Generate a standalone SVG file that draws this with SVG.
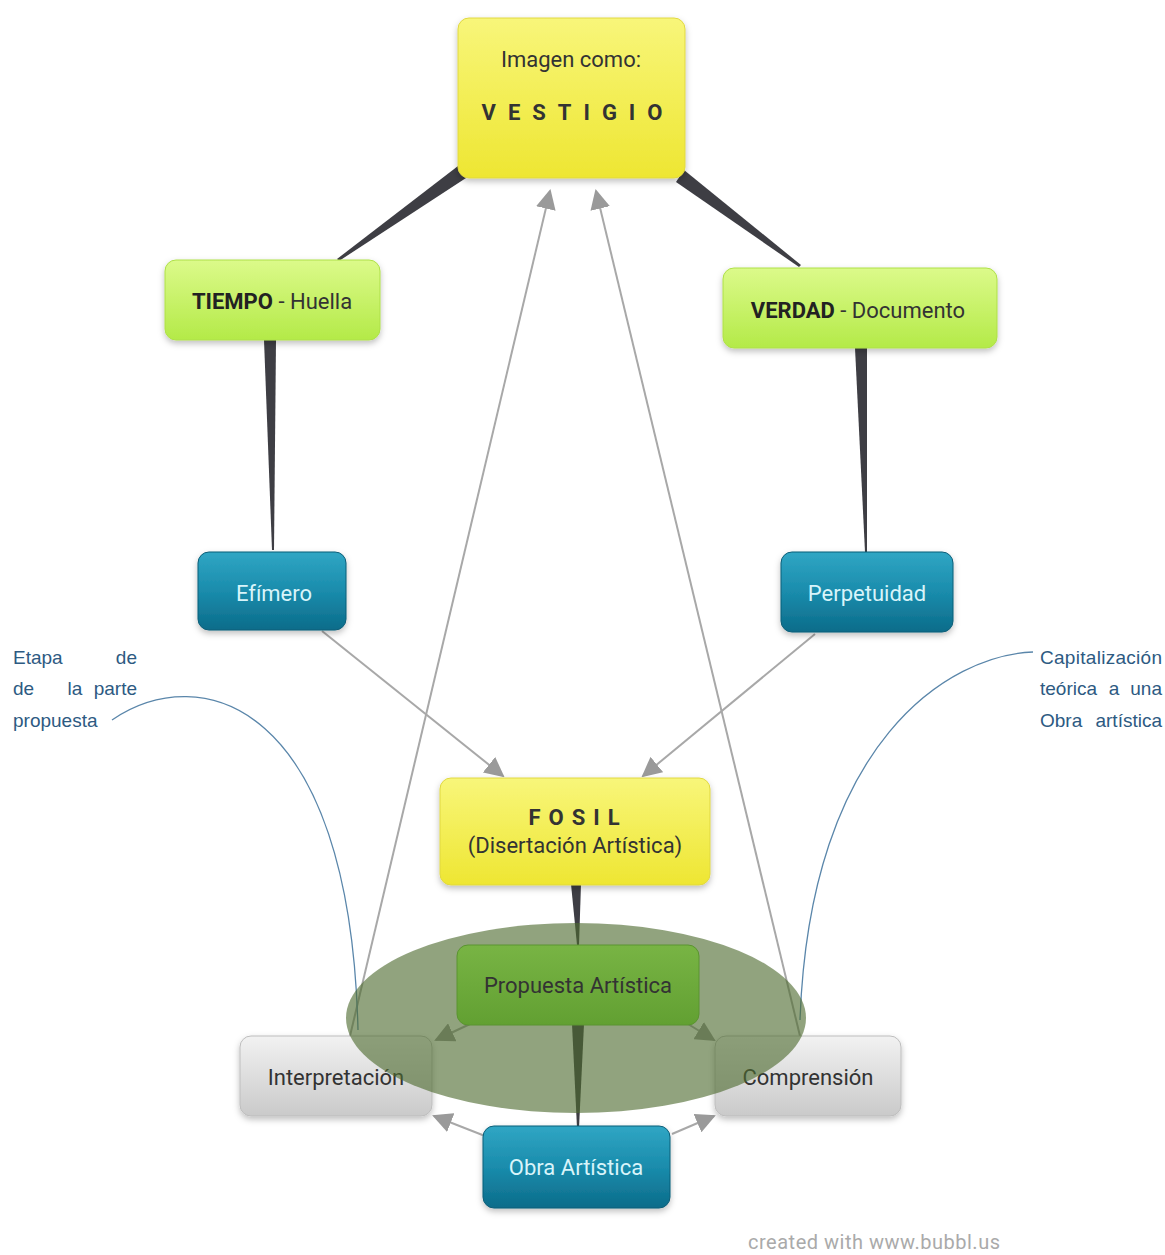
<svg xmlns="http://www.w3.org/2000/svg" width="1165" height="1255" viewBox="0 0 1165 1255">
<defs>
<linearGradient id="gY" x1="0" y1="0" x2="0" y2="1"><stop offset="0" stop-color="#f8f67a"/><stop offset="1" stop-color="#eee632"/></linearGradient>
<linearGradient id="gG" x1="0" y1="0" x2="0" y2="1"><stop offset="0" stop-color="#dcfa8a"/><stop offset="1" stop-color="#b4ea48"/></linearGradient>
<linearGradient id="gT" x1="0" y1="0" x2="0" y2="1"><stop offset="0" stop-color="#30a6c4"/><stop offset="0.5" stop-color="#1a8cac"/><stop offset="1" stop-color="#0c6c8a"/></linearGradient>
<linearGradient id="gR" x1="0" y1="0" x2="0" y2="1"><stop offset="0" stop-color="#f2f2f2"/><stop offset="1" stop-color="#cacaca"/></linearGradient>
<linearGradient id="gP" x1="0" y1="0" x2="0" y2="1"><stop offset="0" stop-color="#78b444"/><stop offset="1" stop-color="#62a032"/></linearGradient>
<filter id="sh" x="-10%" y="-10%" width="120%" height="130%"><feDropShadow dx="0" dy="3" stdDeviation="3" flood-color="#000" flood-opacity="0.25"/></filter>
<marker id="ahb" viewBox="0 0 10 10" refX="9" refY="5" markerWidth="20" markerHeight="20" markerUnits="userSpaceOnUse" orient="auto"><path d="M0,0 L10,5 L0,10 z" fill="#9a9a9a"/></marker>
<style>
.t{font-family:Roboto,"Liberation Sans",sans-serif;font-size:22px;fill:#333;text-anchor:middle}
.tw{font-family:Roboto,"Liberation Sans",sans-serif;font-size:22px;fill:#d8f4fa;text-anchor:middle}
.n{font-family:"Liberation Sans",Arial,sans-serif;font-size:19px;fill:#2d5a82}
.ln{fill:none;stroke:#a8a8a8;stroke-width:2}
.wd{fill:#3e3e44}
.bc{fill:none;stroke:#5a86aa;stroke-width:1.3}
</style>
</defs>
<rect width="1165" height="1255" fill="#fff"/>

<g id="connectors">
<polygon class="wd" points="466,178 458,166 337,259 339,261"/>
<polygon class="wd" points="676,182 684,170 801,265 799,267"/>
<polygon class="wd" points="264,340 276,340 274,550 272,550"/>
<polygon class="wd" points="855,348 867,348 867,552 865,552"/>
<polygon class="wd" points="571,884 581,884 579,945 577,945"/>
<polygon class="wd" points="572,1024 584,1024 579,1128 577,1128"/>
<line class="ln" x1="322" y1="631" x2="503" y2="776" marker-end="url(#ahb)"/>
<line class="ln" x1="815" y1="634" x2="643" y2="776" marker-end="url(#ahb)"/>
<line class="ln" x1="350" y1="1036" x2="550" y2="191" marker-end="url(#ahb)"/>
<line class="ln" x1="800" y1="1036" x2="596" y2="191" marker-end="url(#ahb)"/>
<line class="ln" x1="470" y1="1024" x2="436" y2="1040" marker-end="url(#ahb)"/>
<line class="ln" x1="688" y1="1024" x2="714" y2="1040" marker-end="url(#ahb)"/>
<line class="ln" x1="485" y1="1136" x2="434" y2="1116" marker-end="url(#ahb)"/>
<line class="ln" x1="672" y1="1134" x2="714" y2="1116" marker-end="url(#ahb)"/>
<path class="bc" d="M112,720 C200,660 350,700 358,1030"/>
<path class="bc" d="M1033,652 C950,655 810,740 800,1020"/>
</g>

<g id="vestigio">
<rect x="458" y="18" width="227" height="160" rx="11" fill="url(#gY)" stroke="#e0d840" filter="url(#sh)"/>
<text class="t" x="571" y="67" font-size="21">Imagen como:</text>
<text class="t" x="578" y="120" font-weight="bold" font-size="18" letter-spacing="12" fill="#2a2a1a">VESTIGIO</text>
</g>

<g id="tiempo">
<rect x="165" y="260" width="215" height="80" rx="11" fill="url(#gG)" stroke="#aee048" filter="url(#sh)"/>
<text class="t" x="272" y="309"><tspan font-weight="bold" fill="#222">TIEMPO</tspan> - Huella</text>
</g>

<g id="verdad">
<rect x="723" y="268" width="274" height="80" rx="11" fill="url(#gG)" stroke="#aee048" filter="url(#sh)"/>
<text class="t" x="858" y="318"><tspan font-weight="bold" fill="#222">VERDAD</tspan> - Documento</text>
</g>

<g id="efimero">
<rect x="198" y="552" width="148" height="78" rx="11" fill="url(#gT)" stroke="#0c5e78" filter="url(#sh)"/>
<text class="tw" x="274" y="601">Efímero</text>
</g>

<g id="perpetuidad">
<rect x="781" y="552" width="172" height="80" rx="11" fill="url(#gT)" stroke="#0c5e78" filter="url(#sh)"/>
<text class="tw" x="867" y="601">Perpetuidad</text>
</g>

<g id="fosil">
<rect x="440" y="778" width="270" height="107" rx="11" fill="url(#gY)" stroke="#e0d840" filter="url(#sh)"/>
<text class="t" x="578" y="825" font-weight="bold" font-size="18" letter-spacing="8" fill="#2a2a1a">FOSIL</text>
<text class="t" x="575" y="853" fill="#3a3a10">(Disertación Artística)</text>
</g>

<g id="interpretacion">
<rect x="240" y="1036" width="192" height="80" rx="11" fill="url(#gR)" stroke="#bdbdbd" filter="url(#sh)"/>
<text class="t" x="336" y="1085">Interpretación</text>
</g>

<g id="comprension">
<rect x="715" y="1036" width="186" height="80" rx="11" fill="url(#gR)" stroke="#bdbdbd" filter="url(#sh)"/>
<text class="t" x="808" y="1085">Comprensión</text>
</g>

<g id="obra">
<rect x="483" y="1126" width="187" height="82" rx="11" fill="url(#gT)" stroke="#0c5e78" filter="url(#sh)"/>
<text class="tw" x="576" y="1175">Obra Artística</text>
</g>

<g id="ellipse">
<ellipse cx="576" cy="1018" rx="230" ry="95" fill="#4d6b2e" fill-opacity="0.62"/>
</g>

<g id="propuesta">
<rect x="457" y="945" width="242" height="80" rx="11" fill="url(#gP)" stroke="#5a9430"/>
<text class="t" x="578" y="993" fill="#3c5a22">Propuesta Artística</text>
</g>

<g id="note-left">
<text class="n" x="13" y="664">Etapa</text>
<text class="n" x="137" y="664" text-anchor="end">de</text>
<text class="n" x="13" y="695">de</text>
<text class="n" x="75" y="695" text-anchor="middle">la</text>
<text class="n" x="137" y="695" text-anchor="end">parte</text>
<text class="n" x="13" y="727">propuesta</text>
</g>

<g id="note-right">
<text class="n" x="1040" y="664" textLength="122">Capitalización</text>
<text class="n" x="1040" y="695">teórica</text>
<text class="n" x="1114" y="695" text-anchor="middle">a</text>
<text class="n" x="1162" y="695" text-anchor="end">una</text>
<text class="n" x="1040" y="727">Obra</text>
<text class="n" x="1162" y="727" text-anchor="end">artística</text>
</g>

<text x="748" y="1249" font-family="Roboto,'Liberation Sans',sans-serif" font-size="20" fill="#aaa" textLength="252">created with www.bubbl.us</text>
</svg>
